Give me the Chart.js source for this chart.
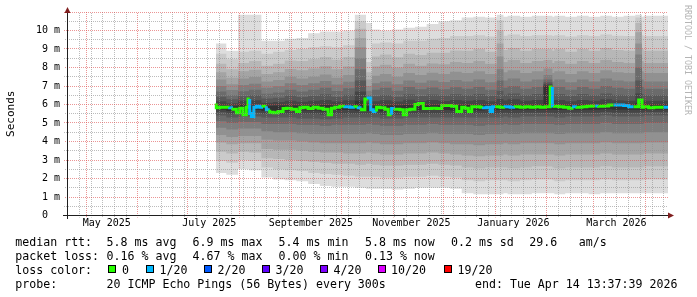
<!DOCTYPE html>
<html><head><meta charset="utf-8">
<script src="https://cdn.jsdelivr.net/npm/chart.js@4.4.1/dist/chart.umd.min.js"></script>
<style>
html,body{margin:0;padding:0;background:#fff;}
#wrap{position:relative;width:697px;height:297px;overflow:hidden;background:#fff;}
#c{position:absolute;left:0;top:0;}
.t{position:absolute;font-family:'DejaVu Sans Mono',monospace;font-size:11.6px;line-height:14px;white-space:pre;color:#000;}
.sq{position:absolute;width:6px;height:6px;border:1px solid #000;top:265px;}
#wm{position:absolute;left:683px;top:5px;width:10px;font-family:'DejaVu Sans Mono',monospace;font-size:8.3px;line-height:10px;color:#b4b4b4;writing-mode:vertical-rl;white-space:pre;}
</style></head><body>
<div id="wrap">
<canvas id="c" width="697" height="297" style="width:697px;height:297px"></canvas>
<div id="wm">RRDTOOL / TOBI OETIKER</div>
<div class="t" style="left:15.3px;top:234.5px">median rtt:</div>
<div class="t" style="left:106.6px;top:234.5px">5.8 ms avg</div>
<div class="t" style="left:192.6px;top:234.5px">6.9 ms max</div>
<div class="t" style="left:278.6px;top:234.5px">5.4 ms min</div>
<div class="t" style="left:365px;top:234.5px">5.8 ms now</div>
<div class="t" style="left:451px;top:234.5px">0.2 ms sd</div>
<div class="t" style="left:529.3px;top:234.5px">29.6</div>
<div class="t" style="left:578.8px;top:234.5px">am/s</div>
<div class="t" style="left:15.3px;top:248.7px">packet loss:</div>
<div class="t" style="left:106.6px;top:248.7px">0.16 % avg</div>
<div class="t" style="left:192.6px;top:248.7px">4.67 % max</div>
<div class="t" style="left:278.6px;top:248.7px">0.00 % min</div>
<div class="t" style="left:365px;top:248.7px">0.13 % now</div>
<div class="t" style="left:15.3px;top:262.7px">loss color:</div>
<div id="lossLegend"></div>
<div class="t" style="left:15.3px;top:277px">probe:</div>
<div class="t" style="left:106.6px;top:277px">20 ICMP Echo Pings (56 Bytes) every 300s</div>
<div class="t" style="left:475px;top:277px">end: Tue Apr 14 13:37:39 2026</div>
</div>
<script>
// ---- time axis: days since 1 May 2025 ----
const X_MIN = -11.43;
const END_DAY = 348.57;
const monthStarts = [0, 31, 61, 92, 123, 153, 184, 214, 245, 276, 304, 335];
const labelDays = [12.4, 73.8, 134.7, 194.9, 256, 317.7];
const labelTexts = ['May 2025', 'July 2025', 'September 2025', 'November 2025', 'January 2026', 'March 2026'];
const yTickLabels = ['0  ', '1 m', '2 m', '3 m', '4 m', '5 m', '6 m', '7 m', '8 m', '9 m', '10 m'];

// ---- smoke columns (start day of each column) ----
const colStart = [77.8, 84, 91, 97.6, 105, 112, 119, 126, 133, 140,
  147, 154, 161, 167.7, 171.3, 176, 183, 190, 197, 204,
  211, 218, 225, 232, 239, 246, 250, 252.5, 260, 267,
  274, 279.3, 280.5, 287, 294, 301, 308, 315, 322, 329,
  333, 334, 341];

// ping ranks (ms), sorted lowest (p1) to highest (p20)
const p1 = [2.2, 2.3, 2.2, 2.5, 2.45, 2.05, 1.95, 1.9, 1.85, 1.7,
  1.6, 1.55, 1.55, 1.5, 1.45, 1.45, 1.45, 1.4, 1.45, 1.5,
  1.5, 1.5, 1.45, 1.2, 1.15, 1.15, 1.15, 1.2, 1.15, 1.15,
  1.2, 1.2, 1.2, 1.15, 1.2, 1.2, 1.15, 1.2, 1.2, 1.2,
  1.2, 1.2, 1.2];
const p2 = [2.9, 2.95, 2.85, 3.0, 2.95, 2.6, 2.5, 2.45, 2.4, 2.3,
  2.25, 2.2, 2.15, 2.1, 2.1, 2.1, 2.05, 2.05, 2.1, 2.1,
  2.15, 2.1, 2.05, 1.9, 1.85, 1.9, 1.9, 1.9, 1.85, 1.9,
  1.95, 1.95, 1.9, 1.85, 1.9, 1.9, 1.9, 1.95, 1.9, 1.9,
  1.9, 1.9, 1.95];
const p3 = [3.4, 3.45, 3.35, 3.45, 3.4, 3.1, 3.05, 3.0, 2.95, 2.9,
  2.85, 2.8, 2.8, 2.75, 2.8, 2.75, 2.7, 2.7, 2.75, 2.75,
  2.8, 2.75, 2.7, 2.6, 2.55, 2.6, 2.6, 2.6, 2.55, 2.6,
  2.65, 2.65, 2.6, 2.55, 2.6, 2.6, 2.6, 2.65, 2.6, 2.6,
  2.6, 2.6, 2.65];
const p4 = [3.9, 3.95, 3.85, 3.9, 3.9, 3.6, 3.55, 3.55, 3.5, 3.45,
  3.4, 3.4, 3.35, 3.35, 3.4, 3.35, 3.3, 3.3, 3.35, 3.35,
  3.4, 3.35, 3.3, 3.25, 3.2, 3.25, 3.25, 3.3, 3.25, 3.3,
  3.3, 3.3, 3.3, 3.25, 3.3, 3.3, 3.3, 3.35, 3.3, 3.3,
  3.3, 3.3, 3.35];
const p5 = [4.3, 4.35, 4.25, 4.3, 4.3, 4.1, 4.05, 4.05, 4.0, 3.95,
  3.9, 3.9, 3.9, 3.9, 3.95, 3.9, 3.85, 3.85, 3.9, 3.9,
  3.95, 3.9, 3.85, 3.85, 3.8, 3.85, 3.85, 3.9, 3.85, 3.9,
  3.9, 3.9, 3.9, 3.85, 3.9, 3.9, 3.9, 3.95, 3.9, 3.9,
  3.9, 3.9, 3.95];
const p6 = [4.7, 4.75, 4.65, 4.7, 4.7, 4.55, 4.5, 4.5, 4.45, 4.4,
  4.4, 4.4, 4.4, 4.4, 4.45, 4.4, 4.35, 4.35, 4.4, 4.4,
  4.45, 4.4, 4.4, 4.4, 4.35, 4.4, 4.4, 4.45, 4.4, 4.45,
  4.45, 4.45, 4.45, 4.4, 4.45, 4.45, 4.45, 4.5, 4.45, 4.45,
  4.45, 4.45, 4.5];
const p7 = [5.05, 5.1, 5.0, 5.05, 5.05, 4.95, 4.95, 4.95, 4.9, 4.9,
  4.85, 4.9, 4.9, 4.9, 4.95, 4.9, 4.85, 4.85, 4.9, 4.9,
  4.95, 4.9, 4.9, 4.9, 4.85, 4.9, 4.9, 4.95, 4.9, 4.95,
  4.95, 4.95, 4.95, 4.9, 4.95, 4.95, 4.95, 5.0, 4.95, 4.95,
  4.95, 4.95, 5.0];
const p8 = [5.35, 5.4, 5.3, 5.35, 5.35, 5.3, 5.3, 5.3, 5.25, 5.25,
  5.2, 5.25, 5.3, 5.3, 5.3, 5.3, 5.25, 5.25, 5.3, 5.3,
  5.3, 5.3, 5.3, 5.3, 5.3, 5.3, 5.3, 5.35, 5.3, 5.35,
  5.35, 5.35, 5.35, 5.3, 5.35, 5.35, 5.35, 5.4, 5.35, 5.35,
  5.35, 5.35, 5.4];
const p9 = [5.55, 5.6, 5.5, 5.5, 5.55, 5.5, 5.5, 5.5, 5.5, 5.5,
  5.45, 5.5, 5.5, 5.5, 5.5, 5.5, 5.45, 5.45, 5.5, 5.5,
  5.5, 5.5, 5.5, 5.5, 5.5, 5.5, 5.5, 5.55, 5.5, 5.55,
  5.55, 5.55, 5.55, 5.5, 5.55, 5.55, 5.55, 5.6, 5.55, 5.55,
  5.55, 5.55, 5.6];
const p10 = [5.7, 5.72, 5.65, 5.62, 5.7, 5.65, 5.68, 5.68, 5.68, 5.68,
  5.62, 5.7, 5.7, 5.68, 5.65, 5.68, 5.62, 5.62, 5.68, 5.7,
  5.7, 5.7, 5.68, 5.7, 5.68, 5.7, 5.7, 5.72, 5.7, 5.72,
  5.72, 5.72, 5.72, 5.7, 5.72, 5.72, 5.72, 5.75, 5.72, 5.72,
  5.72, 5.72, 5.72];
const p11 = [5.93, 5.94, 5.9, 5.98, 5.95, 5.92, 5.93, 5.95, 5.93, 5.95,
  5.97, 5.95, 5.97, 6.2, 5.92, 5.95, 5.95, 5.94, 5.97, 5.95,
  5.96, 5.96, 5.97, 5.97, 5.98, 5.96, 6.0, 5.97, 5.99, 5.97,
  5.98, 7.0, 5.98, 5.98, 5.96, 5.98, 5.98, 6.0, 6.0, 5.98,
  6.1, 5.98, 5.98];
const p12 = [6.12, 6.17, 6.07, 6.2, 6.23, 6.1, 6.13, 6.2, 6.15, 6.2,
  6.25, 6.16, 6.23, 6.7, 6.1, 6.18, 6.23, 6.16, 6.26, 6.18,
  6.24, 6.19, 6.25, 6.2, 6.25, 6.18, 6.3, 6.22, 6.28, 6.2,
  6.25, 7.1, 6.2, 6.25, 6.18, 6.25, 6.2, 6.28, 6.23, 6.2,
  6.6, 6.25, 6.2];
const p13 = [6.35, 6.42, 6.28, 6.45, 6.5, 6.32, 6.37, 6.48, 6.4, 6.47,
  6.55, 6.42, 6.53, 7.3, 6.3, 6.45, 6.52, 6.42, 6.56, 6.46,
  6.54, 6.48, 6.56, 6.5, 6.57, 6.47, 6.75, 6.53, 6.6, 6.5,
  6.57, 7.2, 6.5, 6.57, 6.47, 6.57, 6.5, 6.6, 6.53, 6.5,
  7.3, 6.57, 6.5];
const p14 = [6.6, 6.7, 6.5, 6.72, 6.8, 6.58, 6.65, 6.8, 6.7, 6.8,
  6.9, 6.73, 6.88, 7.9, 6.5, 6.8, 6.9, 6.75, 6.95, 6.82,
  6.92, 6.83, 6.93, 6.85, 6.95, 6.8, 7.3, 6.9, 7.0, 6.85,
  6.95, 7.35, 6.85, 6.95, 6.8, 6.95, 6.85, 7.0, 6.9, 6.85,
  8.0, 6.95, 6.85];
const p15 = [6.9, 7.0, 6.78, 7.05, 7.12, 6.9, 6.98, 7.15, 7.05, 7.15,
  7.27, 7.08, 7.23, 8.5, 6.75, 7.15, 7.25, 7.1, 7.3, 7.18,
  7.3, 7.22, 7.33, 7.25, 7.35, 7.2, 7.9, 7.3, 7.4, 7.25,
  7.35, 7.6, 7.25, 7.35, 7.2, 7.35, 7.25, 7.4, 7.3, 7.25,
  8.7, 7.35, 7.25];
const p16 = [7.25, 7.35, 7.1, 7.4, 7.48, 7.25, 7.33, 7.5, 7.4, 7.5,
  7.62, 7.45, 7.6, 9.1, 7.0, 7.55, 7.65, 7.5, 7.7, 7.6,
  7.72, 7.65, 7.77, 7.7, 7.8, 7.65, 8.6, 7.75, 7.85, 7.7,
  7.8, 7.95, 7.7, 7.8, 7.65, 7.8, 7.7, 7.85, 7.75, 7.7,
  9.3, 7.8, 7.7];
const p17 = [7.65, 7.75, 7.45, 7.8, 7.88, 7.65, 7.75, 7.92, 7.85, 7.95,
  8.07, 7.9, 8.05, 9.6, 7.35, 8.05, 8.15, 8.0, 8.2, 8.1,
  8.22, 8.18, 8.3, 8.25, 8.35, 8.2, 9.3, 8.3, 8.4, 8.25,
  8.35, 8.4, 8.25, 8.35, 8.2, 8.35, 8.25, 8.4, 8.3, 8.25,
  9.9, 8.35, 8.25];
const p18 = [8.1, 8.2, 7.9, 8.25, 8.35, 8.1, 8.2, 8.38, 8.35, 8.45,
  8.57, 8.42, 8.57, 10.1, 7.75, 8.6, 8.7, 8.55, 8.75, 8.68,
  8.8, 8.8, 8.92, 8.9, 9.0, 8.85, 10.0, 8.95, 9.05, 8.9,
  9.0, 9.0, 8.9, 9.0, 8.85, 9.0, 8.9, 9.05, 8.95, 8.9,
  10.4, 9.0, 8.9];
const p19 = [8.7, 8.75, 8.45, 8.85, 8.9, 8.75, 8.85, 8.95, 9.0, 9.1,
  9.15, 9.1, 9.2, 10.5, 8.3, 9.3, 9.35, 9.3, 9.45, 9.45,
  9.55, 9.6, 9.7, 9.7, 9.75, 9.68, 10.55, 9.72, 9.78, 9.7,
  9.75, 9.75, 9.7, 9.75, 9.68, 9.75, 9.7, 9.78, 9.72, 9.7,
  10.7, 9.75, 9.7];
const p20 = [9.35, 9.3, 8.9, 10.85, 10.85, 9.45, 9.45, 9.55, 9.6, 9.85,
  9.95, 9.95, 10.0, 10.85, 10.4, 10.05, 10.0, 10.05, 10.15, 10.2,
  10.35, 10.5, 10.55, 10.7, 10.75, 10.7, 10.85, 10.75, 10.8, 10.75,
  10.8, 10.8, 10.75, 10.8, 10.75, 10.8, 10.75, 10.8, 10.75, 10.8,
  10.85, 10.75, 10.8];

// ---- median RTT (ms) and packet loss (of 20) ----
const medDays = [78, 80, 83, 86, 88, 90, 92, 94, 96, 97,
  98, 99, 100.5, 102, 104, 106, 108, 110, 112, 115,
  118, 120, 123, 126, 128, 130, 133, 136, 139, 142,
  145, 147, 149, 152, 155, 158, 161, 163, 165, 167,
  169, 170.5, 172, 174, 176, 179, 181, 183, 185, 188,
  190, 192, 194, 197, 199, 202, 204, 207, 210, 213,
  216, 219, 222, 225, 227, 229, 231, 233, 236, 238,
  240, 242, 243.5, 245, 248, 251, 254, 257, 260, 263,
  266, 269, 272, 275, 278, 279.3, 280.5, 283, 286, 289,
  292, 294, 297, 300, 303, 305, 307, 310, 313, 316,
  319, 322, 325, 328, 331, 333, 334, 337, 340, 343,
  346];
const medVals = [6.05, 5.82, 5.85, 5.85, 5.82, 5.75, 5.55, 5.8, 5.45, 5.85,
  6.3, 5.52, 5.35, 5.85, 5.9, 5.85, 5.9, 5.72, 5.58, 5.56,
  5.62, 5.78, 5.8, 5.75, 5.62, 5.82, 5.85, 5.78, 5.85, 5.8,
  5.75, 5.45, 5.8, 5.85, 5.9, 5.88, 5.85, 5.88, 5.82, 5.72,
  6.3, 6.35, 5.72, 5.62, 5.85, 5.82, 5.75, 5.45, 5.78, 5.75,
  5.72, 5.45, 5.72, 5.75, 6.0, 6.05, 5.78, 5.78, 5.8, 5.78,
  5.95, 5.95, 5.9, 5.62, 5.85, 5.8, 5.62, 5.88, 5.88, 5.85,
  5.82, 5.85, 5.62, 5.88, 5.88, 5.85, 5.88, 5.85, 5.88, 5.85,
  5.88, 5.85, 5.88, 5.85, 5.88, 6.95, 5.92, 5.9, 5.88, 5.85,
  5.8, 5.88, 5.85, 5.88, 5.9, 5.92, 5.92, 5.9, 5.92, 5.97,
  5.97, 5.97, 5.95, 5.88, 5.88, 6.25, 5.85, 5.88, 5.82, 5.85,
  5.85];
const medLoss = [0, 0, 0, 1, 0, 0, 0, 0, 0, 0,
  1, 1, 1, 1, 1, 0, 1, 0, 0, 0,
  0, 0, 0, 0, 0, 0, 0, 0, 0, 0,
  0, 0, 0, 0, 1, 1, 0, 1, 0, 0,
  1, 1, 1, 0, 0, 0, 0, 1, 0, 0,
  0, 0, 0, 0, 0, 0, 0, 0, 0, 0,
  0, 0, 0, 0, 0, 0, 0, 0, 0, 1,
  1, 1, 1, 0, 0, 1, 1, 0, 0, 0,
  0, 0, 0, 0, 0, 1, 0, 0, 0, 0,
  1, 0, 0, 0, 0, 1, 0, 0, 0, 1,
  1, 1, 1, 0, 0, 0, 0, 0, 0, 0,
  1];

// ---- legend: loss colours ----
const lossSteps = [0, 1, 2, 3, 4, 10, 19];
const lossLabels = ['0', '1/20', '2/20', '3/20', '4/20', '10/20', '19/20'];
const lossColors = ['#26ff00', '#00b8ff', '#0059ff', '#5e00ff', '#7e00ff', '#dd00ff', '#ff0000'];
const smokeColors = ['#dddddd', '#cacaca', '#b7b7b7', '#a4a4a4', '#919191', '#7e7e7e', '#6b6b6b', '#585858', '#454545', '#323232'];

// legend layout (pixel positions of loss legend items)
const lossBoxX = [107.5, 146, 204, 262, 320, 377.7, 444];
const lossTextX = [122, 159.5, 217.5, 275.5, 333.5, 391, 457.5];

const ranks = [p1, p2, p3, p4, p5, p6, p7, p8, p9, p10, p11, p12, p13, p14, p15, p16, p17, p18, p19, p20];
ranks.forEach((r, i) => { if (r.length !== colStart.length) throw new Error('rank p' + (i + 1) + ' length ' + r.length); });
if (medVals.length !== medDays.length || medLoss.length !== medDays.length) throw new Error('median lengths');

function lossColor(n) {
  let c = lossColors[0];
  lossSteps.forEach((s, i) => { if (n >= s) c = lossColors[i]; });
  return c;
}

// loss legend DOM
const ll = document.getElementById('lossLegend');
lossLabels.forEach((lab, i) => {
  const b = document.createElement('div');
  b.className = 'sq'; b.style.left = lossBoxX[i] + 'px'; b.style.background = lossColors[i];
  ll.appendChild(b);
  const t = document.createElement('div');
  t.className = 't'; t.style.left = lossTextX[i] + 'px'; t.style.top = '262.7px'; t.textContent = lab;
  ll.appendChild(t);
});

// ---- datasets ----
const datasets = [];
ranks.forEach((arr, k) => {
  const data = colStart.map((d, i) => ({x: d, y: arr[i]}));
  data.push({x: END_DAY, y: arr[arr.length - 1]});
  const ds = {label: 'ping' + (k + 1), data, stepped: 'after', borderWidth: 0, pointRadius: 0,
    pointHoverRadius: 0, fill: false, backgroundColor: 'rgba(0,0,0,0)', borderColor: 'rgba(0,0,0,0)', order: 1};
  if (k >= 10) {
    const band = 20 - k;           // 1 = outermost
    ds.fill = 19 - k;              // lower partner rank index
    ds.backgroundColor = smokeColors[band - 1];
  }
  datasets.push(ds);
});
const medData = medDays.map((d, i) => ({x: d, y: medVals[i]}));
medData.push({x: END_DAY, y: medVals[medVals.length - 1]});
datasets.push({
  label: 'median', data: medData, stepped: 'after', borderWidth: 3, pointRadius: 0, pointHoverRadius: 0,
  fill: false, borderColor: lossColors[0], borderCapStyle: 'butt', borderJoinStyle: 'miter', order: 0,
  segment: {borderColor: ctx => lossColor(medLoss[Math.min(ctx.p0DataIndex, medLoss.length - 1)])}
});

// ---- grid / ticks (dotted rrdtool-style grid via 2x2 checker pattern) ----
const canvasEl = document.getElementById('c');
function dotPattern(color) {
  const pc = document.createElement('canvas'); pc.width = 2; pc.height = 2;
  const g = pc.getContext('2d');
  g.fillStyle = color; g.fillRect(0, 0, 1, 1); g.fillRect(1, 1, 1, 1);
  return canvasEl.getContext('2d').createPattern(pc, 'repeat');
}
const MAJOR = dotPattern('rgba(222,79,79,0.6)');
const MINOR = dotPattern('rgba(143,143,143,0.6)');
const NONE = 'rgba(0,0,0,0)';
const xKinds = new Map();
for (let d = -4; d <= END_DAY; d += 7) xKinds.set(d, 'week');
monthStarts.forEach(d => xKinds.set(d, 'month'));
const labelMap = new Map();
labelDays.forEach((d, i) => { labelMap.set(d, labelTexts[i]); if (!xKinds.has(d)) xKinds.set(d, 'label'); });
const xTickVals = Array.from(xKinds.keys()).sort((a, b) => a - b);
const yGridVals = [];
for (let v = 0; v <= 11; v += 0.5) yGridVals.push(v);

function xGridColor(ctx) {
  const t = ctx.tick; if (!t) return NONE;
  const k = xKinds.get(t.value);
  return k === 'month' ? MAJOR : k === 'week' ? MINOR : NONE;
}
function yGridColor(ctx) {
  const t = ctx.tick; if (!t) return NONE;
  return Number.isInteger(t.value) ? MAJOR : MINOR;
}

const arrows = {
  id: 'arrows',
  afterDraw(chart) {
    const {ctx, chartArea: a} = chart;
    const yl = Math.round(a.left) + 0.5;
    ctx.save();
    ctx.strokeStyle = '#1f1f1f'; ctx.lineWidth = 1;
    ctx.beginPath(); ctx.moveTo(a.left - 4, a.bottom); ctx.lineTo(a.left, a.bottom); ctx.stroke();
    ctx.beginPath(); ctx.moveTo(yl, a.bottom); ctx.lineTo(yl, a.bottom + 3.5); ctx.stroke();
    ctx.fillStyle = '#801f1f';
    ctx.beginPath(); ctx.moveTo(a.right + 6, a.bottom); ctx.lineTo(a.right, a.bottom - 3); ctx.lineTo(a.right, a.bottom + 3); ctx.closePath(); ctx.fill();
    ctx.beginPath(); ctx.moveTo(yl, a.top - 5); ctx.lineTo(yl - 3, a.top + 1); ctx.lineTo(yl + 3, a.top + 1); ctx.closePath(); ctx.fill();
    ctx.restore();
  }
};

new Chart(canvasEl, {
  type: 'line',
  data: {datasets},
  plugins: [arrows],
  options: {
    responsive: false, animation: false, devicePixelRatio: 1,
    events: [],
    layout: {padding: {top: 12, right: 29, left: 0, bottom: 0}},
    plugins: {legend: {display: false}, tooltip: {enabled: false}},
    scales: {
      x: {
        type: 'linear', min: X_MIN, max: END_DAY, bounds: 'data',
        afterBuildTicks: s => { s.ticks = xTickVals.map(v => ({value: v})); },
        afterFit: s => { s.height = 81.5; },
        ticks: {autoSkip: false, maxRotation: 0, minRotation: 0, padding: 0, color: '#000',
          font: {family: 'DejaVu Sans Mono', size: 10},
          callback: v => labelMap.get(v) || ''},
        grid: {z: 1, lineWidth: 1, drawTicks: true, tickLength: 2, color: xGridColor, tickColor: xGridColor},
        border: {display: true, color: '#1f1f1f', width: 1, z: 2}
      },
      y: {
        type: 'linear', min: 0, max: 11, bounds: 'data',
        afterBuildTicks: s => { s.ticks = yGridVals.map(v => ({value: v})); },
        afterFit: s => { s.width = 67; },
        ticks: {autoSkip: false, padding: 4, color: '#000',
          font: {family: 'DejaVu Sans Mono', size: 10},
          callback: v => (Number.isInteger(v) && v < yTickLabels.length) ? yTickLabels[v] : ''},
        grid: {z: 1, lineWidth: 1, drawTicks: true, tickLength: 3, color: yGridColor, tickColor: yGridColor},
        border: {display: true, color: '#1f1f1f', width: 1, z: 2},
        title: {display: true, text: 'Seconds', color: '#000',
          font: {family: 'DejaVu Sans Mono', size: 11}, padding: {top: 4.5, bottom: 0}}
      }
    }
  }
});
</script>
</body></html>
